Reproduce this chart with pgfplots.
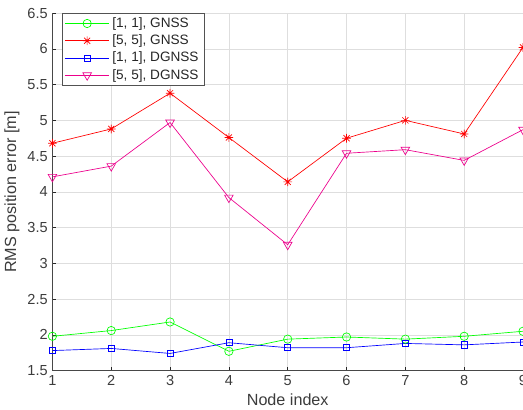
\documentclass[border=0pt]{standalone}
\usepackage{fontspec}
\setmainfont{Liberation Sans}
\usepackage{pgfplots}
\pgfplotsset{compat=1.18}
\definecolor{axgray}{rgb}{0.15,0.15,0.15}
\definecolor{gridgray}{rgb}{0.87,0.87,0.87}
\pgfdeclareplotmark{mstar}{%
 \pgfpathmoveto{\pgfqpoint{-\pgfplotmarksize}{0pt}}\pgfpathlineto{\pgfqpoint{\pgfplotmarksize}{0pt}}%
 \pgfpathmoveto{\pgfqpoint{0pt}{-\pgfplotmarksize}}\pgfpathlineto{\pgfqpoint{0pt}{\pgfplotmarksize}}%
 \pgfpathmoveto{\pgfqpoint{-.7071\pgfplotmarksize}{-.7071\pgfplotmarksize}}\pgfpathlineto{\pgfqpoint{.7071\pgfplotmarksize}{.7071\pgfplotmarksize}}%
 \pgfpathmoveto{\pgfqpoint{-.7071\pgfplotmarksize}{.7071\pgfplotmarksize}}\pgfpathlineto{\pgfqpoint{.7071\pgfplotmarksize}{-.7071\pgfplotmarksize}}%
 \pgfusepathqstroke}
\begin{document}
\begin{tikzpicture}[trim axis right]
\begin{axis}[
  scale only axis,
  width=349.5pt, height=265.5pt,
  xmin=1, xmax=9, ymin=1.5, ymax=6.5,
  xtick={1,...,9},
  ytick={1.5,2,...,6.5},
  axis x line*=bottom, axis y line*=left,
  axis line style={axgray!85, line width=0.6pt, -},
  tick align=inside,
  major tick length=3pt,
  tick style={axgray, line width=0.5pt},
  grid=major,
  major grid style={gridgray, line width=0.5pt},
  /pgf/number format/assume math mode=true,
  ticklabel style={font=\fontsize{10.8}{12}\selectfont, text=axgray!90},
  xlabel={Node index}, ylabel={RMS position error [m]},
  label style={font=\fontsize{12}{14}\selectfont, text=axgray!90},
  xlabel style={yshift=1pt},
  ylabel style={yshift=-1pt},
  legend style={at={(rel axis cs:0,1)}, xshift=6.75pt, anchor=north west,
     draw=axgray!80, line width=0.6pt, font=\fontsize{10.1}{12}\selectfont, text=axgray,
     row sep=0pt, inner xsep=2pt, inner ysep=1pt},
  legend cell align=left,
  legend image code/.code={%
     \draw[mark repeat=2,mark phase=2] plot coordinates {(0cm,0cm) (0.58cm,0cm) (1.16cm,0cm)};},
]
\addplot[green, line width=0.5pt, mark=o, mark size=3.1pt, mark options={solid}] coordinates {
(1,1.98) (2,2.06) (3,2.18) (4,1.77) (5,1.94) (6,1.97) (7,1.94) (8,1.98) (9,2.05)};
\addlegendentry{[1, 1], GNSS}
\addplot[red, line width=0.5pt, mark=mstar, mark size=3.2pt, mark options={solid}] coordinates {
(1,4.68) (2,4.88) (3,5.38) (4,4.76) (5,4.14) (6,4.75) (7,5.00) (8,4.81) (9,6.02)};
\addlegendentry{[5, 5], GNSS}
\addplot[blue, line width=0.5pt, mark=square, mark size=2.25pt, mark options={solid}] coordinates {
(1,1.78) (2,1.81) (3,1.74) (4,1.89) (5,1.82) (6,1.82) (7,1.88) (8,1.86) (9,1.90)};
\addlegendentry{[1, 1], DGNSS}
\addplot[magenta, line width=0.5pt, mark=triangle, mark size=3.7pt, mark options={solid, rotate=180}] coordinates {
(1,4.21) (2,4.36) (3,4.97) (4,3.92) (5,3.26) (6,4.54) (7,4.59) (8,4.44) (9,4.87)};
\addlegendentry{[5, 5], DGNSS}
\end{axis}
\path (current axis.north west) ++(0,9.75pt);
\end{tikzpicture}
\end{document}
